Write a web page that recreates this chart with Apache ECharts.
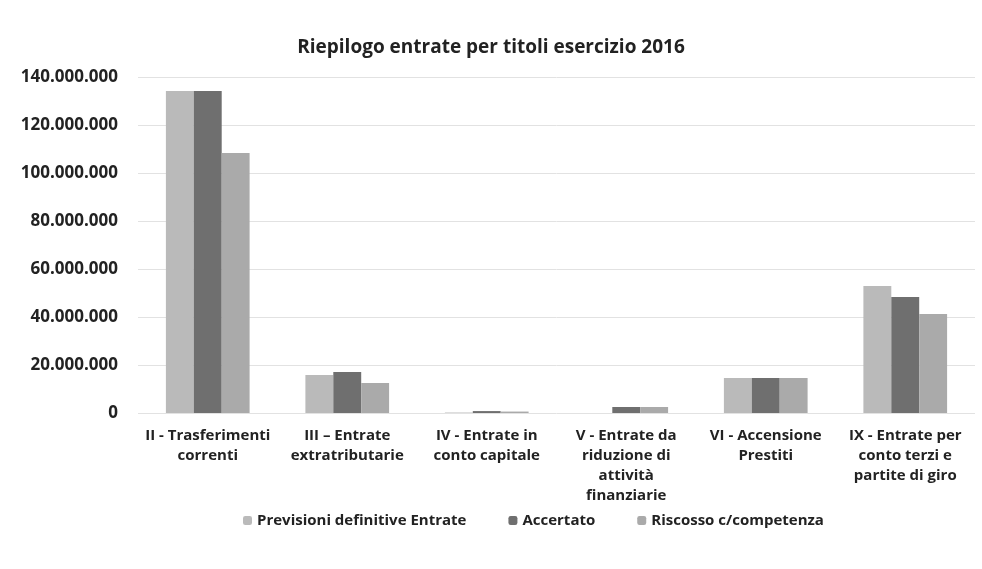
<!DOCTYPE html>
<html>
<head>
<meta charset="utf-8">
<script src="https://cdn.jsdelivr.net/npm/echarts@6/dist/echarts.min.js"></script>
<style>
  html, body { margin: 0; padding: 0; background: #fff; }
  #barChart { width: 982px; height: 569px; }
</style>
</head>
<body>
<div id="barChart"></div>
<script>
// Riepilogo entrate per titoli

var categories = [
    'II - Trasferimenti\ncorrenti',
    'III \u2013 Entrate\nextratributarie',
    'IV - Entrate in\nconto capitale',
    'V - Entrate da\nriduzione di\nattivit\u00e0\nfinanziarie',
    'VI - Accensione\nPrestiti',
    'IX - Entrate per\nconto terzi e\npartite di giro'
];

var seriesNames = ['Previsioni definitive Entrate', 'Accertato', 'Riscosso c/competenza'];

var previsioni = [134200000, 15800000, 200000, 0, 14600000, 52900000];
var accertato = [134200000, 17100000, 800000, 2500000, 14600000, 48300000];
var riscosso = [108300000, 12500000, 600000, 2500000, 14600000, 41200000];

var colors = ['#bababa', '#6f6f6f', '#aaaaaa'];

function fmt(v) {
    return String(v).replace(/\B(?=(\d{3})+(?!\d))/g, '.');
}

var myChart = echarts.init(document.getElementById('barChart'));

var font = '"Open Sans", "Noto Sans", sans-serif';

var option = {
    textStyle: { fontFamily: font },
    title: {
        text: 'Riepilogo entrate per titoli esercizio 2016',
        left: 'center',
        top: 33,
        textStyle: { fontSize: 19, fontWeight: 'bold', color: '#222', fontFamily: font }
    },
    legend: {
        bottom: 36,
        left: 238,
        itemWidth: 9,
        itemHeight: 9,
        itemGap: 42,
        textStyle: { fontSize: 15, fontWeight: 'bold', color: '#222', fontFamily: font },
        data: seriesNames
    },
    grid: {
        left: 138,
        right: 7,
        top: 77,
        bottom: 156,
        containLabel: false
    },
    xAxis: {
        type: 'category',
        data: categories,
        axisLine: { show: false },
        axisTick: { show: false },
        axisLabel: {
            interval: 0,
            fontSize: 15,
            fontWeight: 'bold',
            color: '#222',
            lineHeight: 20,
            margin: 13,
            fontFamily: font
        }
    },
    yAxis: {
        type: 'value',
        min: 0,
        max: 140000000,
        interval: 20000000,
        axisLabel: {
            fontSize: 17,
            fontWeight: 'bold',
            color: '#222',
            margin: 20,
            fontFamily: font,
            formatter: fmt
        },
        splitLine: { lineStyle: { color: '#e2e2e2' } }
    },
    series: [
        { name: seriesNames[0], type: 'bar', data: previsioni, itemStyle: { color: colors[0] }, barGap: '0%', barCategoryGap: '40%' },
        { name: seriesNames[1], type: 'bar', data: accertato, itemStyle: { color: colors[1] }, barGap: '0%', barCategoryGap: '40%' },
        { name: seriesNames[2], type: 'bar', data: riscosso, itemStyle: { color: colors[2] }, barGap: '0%', barCategoryGap: '40%' }
    ]
};

myChart.setOption(option);

window.addEventListener('resize', function() {
    myChart.resize();
});
</script>
</body>
</html>
